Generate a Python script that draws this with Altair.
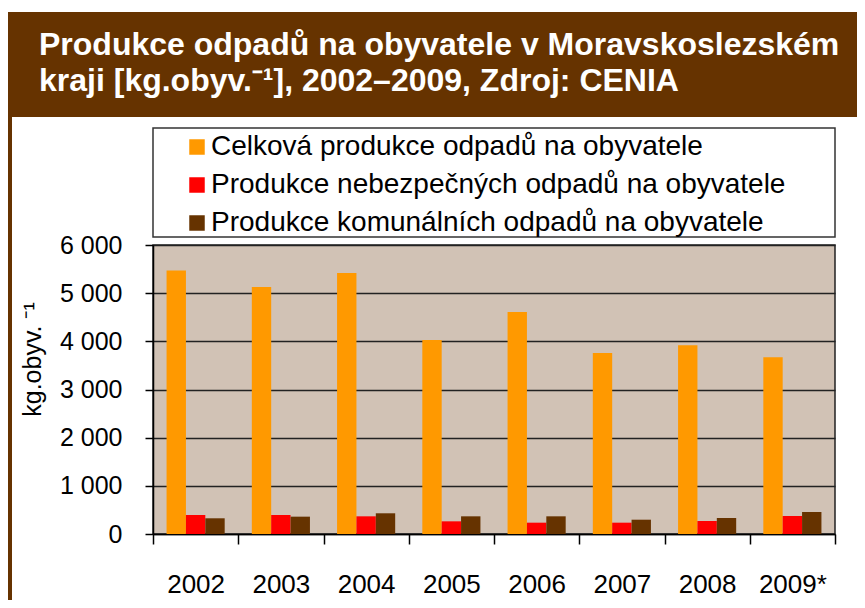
import altair as alt
import pandas as pd

# ---- data ----
years = ["2002", "2003", "2004", "2005", "2006", "2007", "2008", "2009*"]
series = [
    "Celková produkce odpadů na obyvatele",
    "Produkce nebezpečných odpadů na obyvatele",
    "Produkce komunálních odpadů na obyvatele",
]
celkova = [5470, 5130, 5420, 4030, 4610, 3760, 3920, 3670]
nebezpecne = [395, 395, 367, 263, 235, 235, 270, 374]
komunalni = [326, 360, 430, 367, 367, 297, 332, 457]
colors = ["#FF9900", "#FF0000", "#663300"]
y_ticks = [0, 1000, 2000, 3000, 4000, 5000, 6000]
title_lines = [
    "Produkce odpadů na obyvatele v Moravskoslezském",
    "kraji [kg.obyv.⁻¹], 2002–2009, Zdroj: CENIA",
]
y_title = "kg.obyv. ⁻¹"

rows = []
for name, vals in zip(series, [celkova, nebezpecne, komunalni]):
    for yr, v in zip(years, vals):
        rows.append({"year": yr, "series": name, "value": v})
df = pd.DataFrame(rows)
one = pd.DataFrame({"d": [0]})

FONT = "Liberation Sans"
BROWN = "#663300"

bars = alt.Chart(df).mark_bar().encode(
    x=alt.X(
        "year:N",
        sort=years,
        scale=alt.Scale(paddingInner=0, paddingOuter=0),
        axis=alt.Axis(
            title=None,
            labelAngle=0,
            tickBand="extent",
            tickSize=10,
            tickColor="#000",
            tickWidth=1.5,
            domainColor="#000",
            domainWidth=1.5,
            labelFontSize=26,
            labelPadding=27,
            labelColor="#000",
            grid=False,
        ),
    ),
    xOffset=alt.XOffset("series:N", sort=series,
                        scale=alt.Scale(paddingInner=0, paddingOuter=0.7)),
    y=alt.Y(
        "value:Q",
        scale=alt.Scale(domain=[0, 6000], nice=False),
        axis=alt.Axis(
            values=y_ticks,
            labelExpr="replace(format(datum.value, ','), ',', ' ')",
            tickSize=8,
            tickColor="#000",
            tickWidth=1.5,
            domainColor="#000",
            domainWidth=1.5,
            labelFontSize=25,
            labelPadding=23,
            labelColor="#000",
            grid=True,
            gridColor="#222",
            gridWidth=1.5,
            title=y_title,
            titleFontSize=25,
            titleFontWeight="normal",
            titleColor="#000",
            titleAngle=270,
            titleAlign="center",
            titleBaseline="middle",
            titleX=-121,
            titleY=114,
        ),
    ),
    color=alt.Color(
        "series:N",
        sort=series,
        scale=alt.Scale(domain=series, range=colors),
        legend=alt.Legend(
            title=None,
            orient="none",
            legendX=30,
            legendY=-112,
            labelFontSize=28,
            labelColor="#000",
            labelLimit=800,
            labelOffset=0,
            symbolType="square",
            symbolSize=240,
            symbolStrokeWidth=0,
            rowPadding=10,
            padding=0,
            zindex=1,
        ),
    ),
)

# decorative frame: header band, left border line, legend box
band = alt.Chart(one).mark_rect(color=BROWN).encode(
    x=alt.value(-146), x2=alt.value(704), y=alt.value(-233), y2=alt.value(-128)
)
border = alt.Chart(one).mark_rect(color=BROWN).encode(
    x=alt.value(-146), x2=alt.value(-141), y=alt.value(-128), y2=alt.value(370)
)
legend_box = alt.Chart(one).mark_rect(fill="white", stroke="#333", strokeWidth=1.5).encode(
    x=alt.value(0), x2=alt.value(682), y=alt.value(-117), y2=alt.value(-8)
)
title = alt.Chart(one).mark_text(
    font=FONT, fontSize=32, fontWeight="bold", color="white",
    align="left", baseline="alphabetic", lineHeight=36,
).encode(x=alt.value(-114), y=alt.value(-190), text=alt.value(title_lines))

chart = alt.layer(band, border, legend_box, title, bars).properties(
    width=682,
    height=289,
    autosize=alt.AutoSizeParams(type="none"),
    padding={"left": 145, "top": 237, "right": 22, "bottom": 66},
).configure(font=FONT).configure_view(
    fill="#D1C2B5", stroke="#222", strokeWidth=1.5
)

chart.save("out.html", embed_options={"renderer": "svg", "actions": False})
